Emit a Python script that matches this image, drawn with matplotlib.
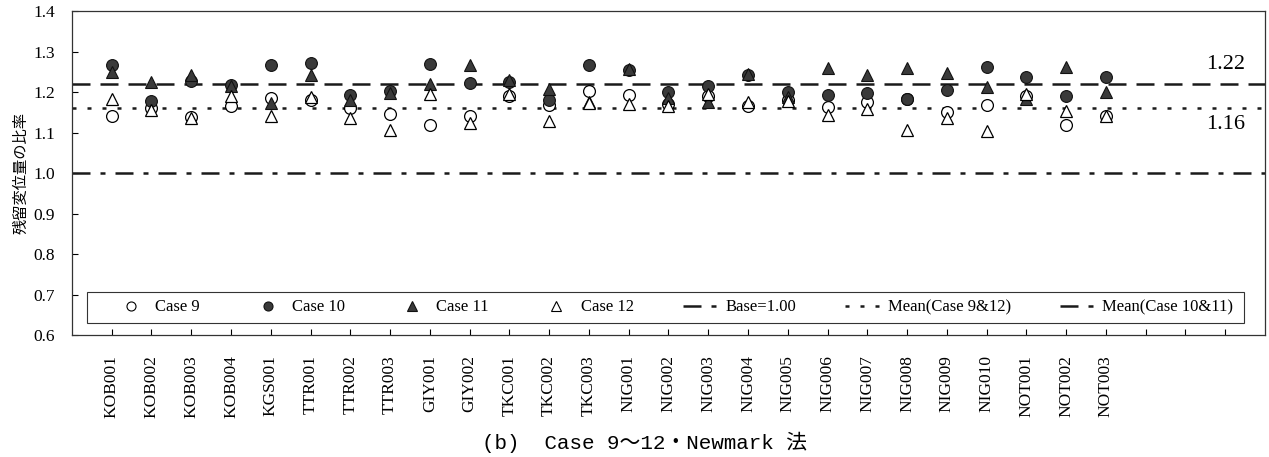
import matplotlib
matplotlib.use("Agg")
import matplotlib.pyplot as plt
from matplotlib.lines import Line2D
from matplotlib.patches import Rectangle

stations = ["KOB001", "KOB002", "KOB003", "KOB004", "KGS001", "TTR001", "TTR002", "TTR003",
            "GIY001", "GIY002", "TKC001", "TKC002", "TKC003", "NIG001", "NIG002", "NIG003",
            "NIG004", "NIG005", "NIG006", "NIG007", "NIG008", "NIG009", "NIG010",
            "NOT001", "NOT002", "NOT003"]

case9 = [1.140, 1.160, 1.138, 1.167, 1.185, 1.180, 1.160, 1.145, 1.120, 1.142, 1.190, 1.168, 1.204,
         1.193, 1.170, 1.190, 1.165, 1.180, 1.164, 1.175, 1.183, 1.150, 1.168, 1.190, 1.118, 1.142]
case10 = [1.268, 1.178, 1.228, 1.218, 1.268, 1.272, 1.193, 1.202, 1.270, 1.222, 1.225, 1.180, 1.268,
          1.255, 1.200, 1.215, 1.243, 1.200, 1.193, 1.198, 1.183, 1.205, 1.262, 1.238, 1.190, 1.238]
case11 = [1.250, 1.225, 1.243, 1.215, 1.172, 1.243, 1.180, 1.197, 1.220, 1.268, 1.230, 1.207, 1.175,
          1.256, 1.186, 1.175, 1.245, 1.188, 1.260, 1.243, 1.260, 1.248, 1.212, 1.183, 1.262, 1.200]
case12 = [1.183, 1.156, 1.135, 1.190, 1.140, 1.188, 1.135, 1.106, 1.195, 1.123, 1.195, 1.128, 1.173,
          1.170, 1.165, 1.195, 1.175, 1.177, 1.143, 1.158, 1.106, 1.137, 1.104, 1.195, 1.153, 1.142]

base_value = 1.00
mean_9_12 = 1.16
mean_10_11 = 1.22
n_ticks = 29
yticks = [0.6, 0.7, 0.8, 0.9, 1.0, 1.1, 1.2, 1.3, 1.4]

SERIF = "Liberation Serif"
plt.rcParams["font.family"] = [SERIF, "Noto Sans CJK JP"]

fig = plt.figure(figsize=(12.69, 4.57), dpi=100)
ax = fig.add_axes([0.0567, 0.2659, 0.9401, 0.7100])

x = list(range(len(stations)))
lw = 1.8
xr = [-1, 29]
ax.plot(xr, [base_value] * 2, color="#1a1a1a", lw=lw, dashes=(7.2, 4, 2, 4), zorder=2)
ax.plot(xr, [mean_9_12] * 2, color="#1a1a1a", lw=lw, dashes=(1.6, 4.4), zorder=2)
ax.plot(xr, [mean_10_11] * 2, color="#1a1a1a", lw=lw, dashes=(7.2, 4), zorder=2)

ms = 8.5
ax.plot(x, case9, ls="none", marker="o", ms=ms, mfc="white", mec="black", mew=0.9, zorder=3)
ax.plot(x, case10, ls="none", marker="o", ms=ms, mfc="#3a3a3a", mec="#111111", mew=0.8, zorder=4)
ax.plot(x, case11, ls="none", marker="^", ms=ms + 0.5, mfc="#3a3a3a", mec="#111111", mew=0.8, zorder=5)
ax.plot(x, case12, ls="none", marker="^", ms=ms + 0.5, mfc="white", mec="black", mew=0.9, zorder=6)

ax.set_xlim(-1, 29)
ax.set_ylim(0.6, 1.4)
ax.set_yticks(yticks)
ax.set_yticklabels([f"{v:.1f}" for v in yticks], fontsize=12.5, family=SERIF)
ax.set_xticks(range(n_ticks))
ax.set_xticklabels(stations + [""] * (n_ticks - len(stations)), rotation=90, fontsize=12.5, family=SERIF)
ax.tick_params(axis="x", direction="in", length=4, width=0.8, pad=14)
ax.tick_params(axis="y", direction="in", length=4, width=0.8, pad=12)
for s in ax.spines.values():
    s.set_linewidth(0.9)
    s.set_color("#333333")

ax.set_ylabel("残留変位量の比率", family="Noto Sans CJK JP", fontsize=11, labelpad=3)

ax.text(28, 1.267, "1.22", ha="center", va="center", fontsize=16, family=SERIF)
ax.text(28, 1.119, "1.16", ha="center", va="center", fontsize=16, family=SERIF)

# legend frame
ax.add_patch(Rectangle((0.0126, 0.0385), 0.9697, 0.0955, transform=ax.transAxes,
                       facecolor="white", edgecolor="#333333", lw=0.8, zorder=7))

handles = [
    Line2D([], [], ls="none", marker="o", ms=6.5, mfc="white", mec="black", mew=0.8),
    Line2D([], [], ls="none", marker="o", ms=6.5, mfc="#3a3a3a", mec="#111111", mew=0.8),
    Line2D([], [], ls="none", marker="^", ms=7, mfc="#3a3a3a", mec="#111111", mew=0.8),
    Line2D([], [], ls="none", marker="^", ms=7, mfc="white", mec="black", mew=0.8),
    Line2D([], [], color="#1a1a1a", lw=lw, dashes=(7.2, 4, 2, 4)),
    Line2D([], [], color="#1a1a1a", lw=lw, dashes=(1.6, 4.4)),
    Line2D([], [], color="#1a1a1a", lw=lw, dashes=(7.2, 4, 2, 4)),
]
labels = ["Case 9", "Case 10", "Case 11", "Case 12", "Base=1.00", "Mean(Case 9&12)", "Mean(Case 10&11)"]
leg = ax.legend(handles, labels, ncol=7, loc="center left",
                bbox_to_anchor=((113 - 72) / 1193, 0.0863), borderaxespad=0, borderpad=0,
                frameon=False, handlelength=2.2, handletextpad=0.35, columnspacing=2.95,
                prop={"family": SERIF, "size": 12})
leg.set_zorder(8)

fig.text(0.508, 0.032, "(b)  Case 9～12・Newmark 法", ha="center", va="center",
         fontsize=15, family=["Liberation Mono", "Noto Sans CJK JP"])

fig.savefig("out.png", dpi=100)
